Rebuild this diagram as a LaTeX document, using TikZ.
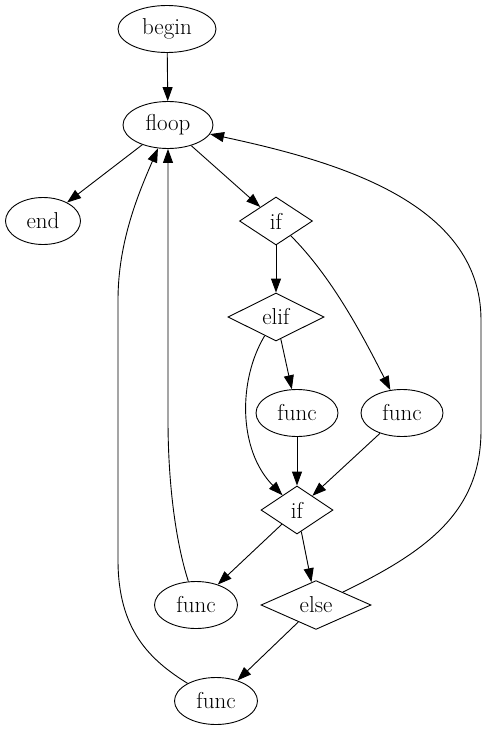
\documentclass[tikz,border=0pt]{standalone}
\usepackage{tikz}
\usetikzlibrary{arrows.meta, shapes.geometric}
\tikzset{
  ellnode/.style = {draw, ellipse, line width=0.9pt, inner sep=0pt,
                    minimum width=82pt, minimum height=47pt,
                    font=\fontsize{23}{26}\selectfont},
  dianode/.style = {draw, diamond, line width=0.9pt, inner sep=0pt,
                    minimum width=72pt, minimum height=48pt,
                    font=\fontsize{23}{26}\selectfont},
  flow/.style    = {-{Triangle[length=14pt, width=10pt]}, line width=0.9pt},
}
\begin{document}
\begin{tikzpicture}[x=1pt, y=1pt]
    \useasboundingbox (0,0) rectangle (487,-731);

    \node[ellnode, minimum width=98pt] (begin) at (167,-29)  {begin};
    \node[ellnode, minimum width=90pt] (floop) at (168,-125) {floop};
    \node[ellnode, minimum width=75pt] (end)   at (43,-221)  {end};
    \node[dianode, minimum width=73pt] (if1)   at (276,-221) {if};
    \node[dianode, minimum width=96pt] (elif)  at (276,-317) {elif};
    \node[ellnode]                     (funca) at (297,-413) {func};
    \node[ellnode]                     (funcb) at (402,-413) {func};
    \node[dianode]                     (if2)   at (297,-510) {if};
    \node[ellnode, minimum width=83pt] (funcc) at (196,-605) {func};
    \node[dianode, minimum width=110pt] (else) at (316,-605) {else};
    \node[ellnode, minimum width=83pt] (funcd) at (216,-701) {func};

    \draw[flow] (begin) -- (floop);
    \draw[flow] (floop) -- (end);
    \draw[flow] (floop) -- (if1);
    \draw[flow] (if1) -- (elif);
    \draw[flow] (if1) .. controls (330,-275) and (360,-330) .. (funcb);
    \draw[flow] (elif) -- (funca);
    \draw[flow] (elif) .. controls (238,-380) and (238,-450) .. (if2);
    \draw[flow] (funca) -- (if2);
    \draw[flow] (funcb) -- (if2);
    \draw[flow] (if2) -- (funcc);
    \draw[flow] (if2) -- (else);
    \draw[flow] (else) -- (funcd);

    % back edges to the loop head
    \draw[flow] (else) .. controls (430,-550) and (481,-510) .. (481,-430)
                -- (481,-320) .. controls (481,-200) and (330,-160) .. (floop);
    \draw[flow] (funcc) .. controls (175,-540) and (168,-480) .. (168,-420)
                -- (floop);
    \draw[flow] (funcd) .. controls (150,-660) and (118,-630) .. (118,-560)
                -- (118,-300) .. controls (118,-240) and (140,-190) .. (floop);
  \end{tikzpicture}
\end{document}
